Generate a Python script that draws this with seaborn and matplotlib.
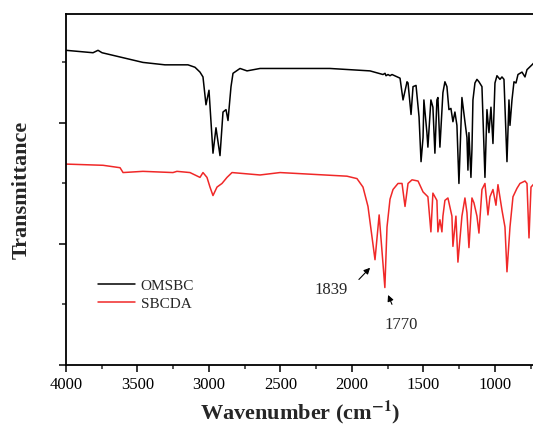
import numpy as np
import pandas as pd
import matplotlib
matplotlib.use("Agg")
import matplotlib.pyplot as plt
import seaborn as sns

# FTIR spectra (wavenumber in cm-1, transmittance in a.u.)
omsbc_wn = [4000, 3811, 3776, 3748, 3462, 3308, 3147, 3098, 3063, 3042, 3021, 3000,
            2972, 2951, 2923, 2902, 2881, 2867, 2846, 2832, 2783, 2734, 2643, 2364,
            2154, 1874, 1783, 1769, 1762, 1748, 1734, 1720, 1664, 1643, 1615, 1608,
            1587, 1573, 1552, 1531, 1517, 1503, 1497, 1476, 1469, 1448, 1434, 1420,
            1406, 1399, 1385, 1364, 1350, 1336, 1322, 1308, 1294, 1280, 1266, 1252,
            1231, 1210, 1196, 1189, 1182, 1168, 1161, 1154, 1140, 1126, 1112, 1091,
            1070, 1056, 1042, 1028, 1014, 1000, 986, 965, 951, 937, 916, 902, 895,
            881, 867, 853, 839, 811, 790, 776, 741, 725]
omsbc_t = [2.60, 2.58, 2.60, 2.58, 2.50, 2.48, 2.48, 2.46, 2.42, 2.38, 2.15, 2.27,
           1.75, 1.96, 1.73, 2.09, 2.11, 2.02, 2.30, 2.41, 2.45, 2.43, 2.45, 2.45,
           2.45, 2.43, 2.40, 2.41, 2.39, 2.40, 2.39, 2.40, 2.37, 2.19, 2.34, 2.33,
           2.07, 2.30, 2.31, 2.05, 1.68, 1.88, 2.19, 1.92, 1.80, 2.19, 2.13, 1.75,
           2.19, 2.21, 1.80, 2.25, 2.34, 2.30, 2.11, 2.12, 2.01, 2.09, 1.98, 1.50,
           2.21, 2.01, 1.88, 1.61, 1.92, 1.55, 1.78, 2.19, 2.33, 2.36, 2.34, 2.30,
           1.55, 2.11, 1.92, 2.13, 1.83, 2.33, 2.39, 2.36, 2.38, 2.36, 1.68, 2.19, 1.98,
           2.19, 2.34, 2.33, 2.40, 2.42, 2.38, 2.44, 2.48, 2.50]

sbcda_wn = [4000, 3741, 3622, 3601, 3462, 3252, 3224, 3133, 3063, 3042, 3014, 2993,
            2972, 2944, 2909, 2874, 2839, 2643, 2503, 2035, 1965, 1923, 1888, 1839,
            1810, 1770, 1755, 1734, 1713, 1678, 1650, 1629, 1608, 1580, 1538, 1503,
            1469, 1448, 1434, 1406, 1399, 1385, 1371, 1364, 1350, 1329, 1301, 1294,
            1273, 1259, 1231, 1210, 1196, 1182, 1161, 1147, 1126, 1112, 1091, 1070,
            1049, 1035, 1014, 993, 979, 951, 930, 916, 895, 874, 846, 825, 790, 776,
            762, 748, 725]
sbcda_t = [1.66, 1.65, 1.63, 1.59, 1.60, 1.59, 1.60, 1.59, 1.55, 1.59, 1.55, 1.47,
           1.40, 1.47, 1.50, 1.55, 1.59, 1.57, 1.59, 1.56, 1.54, 1.47, 1.31, 0.87,
           1.24, 0.64, 1.14, 1.37, 1.45, 1.50, 1.50, 1.31, 1.50, 1.53, 1.52, 1.43,
           1.39, 1.10, 1.42, 1.36, 1.10, 1.20, 1.10, 1.23, 1.36, 1.38, 1.23, 0.98,
           1.23, 0.85, 1.23, 1.38, 1.26, 0.97, 1.38, 1.34, 1.23, 1.09, 1.45, 1.50,
           1.24, 1.39, 1.45, 1.32, 1.49, 1.28, 1.14, 0.77, 1.14, 1.39, 1.46, 1.50, 1.52,
           1.50, 1.05, 1.47, 1.50]

samples = ["OMSBC", "SBCDA"]
colors = ["black", "#f02828"]

df = pd.concat([
    pd.DataFrame({"wn": omsbc_wn, "T": omsbc_t, "sample": "OMSBC"}),
    pd.DataFrame({"wn": sbcda_wn, "T": sbcda_t, "sample": "SBCDA"}),
])

sns.set_style("ticks")
plt.rcParams["font.family"] = ["Liberation Serif", "DejaVu Serif"]
plt.rcParams["mathtext.fontset"] = "stix"

fig = plt.figure(figsize=(5.33, 4.30), dpi=100)
ax = fig.add_axes([66 / 533, 65 / 430, 469 / 533, 351 / 430])

sns.lineplot(data=df, x="wn", y="T", hue="sample", palette=dict(zip(samples, colors)),
             sort=False, estimator=None, lw=1.1, ax=ax)

ax.set_xlim(4000, 720)
ax.set_ylim(0, 2.9)
ax.set_xticks([4000, 3500, 3000, 2500, 2000, 1500, 1000])
ax.set_xticks(np.arange(3750, 720, -500), minor=True)
ax.set_yticks([0, 1, 2])
ax.set_yticks([0.5, 1.5, 2.5], minor=True)
ax.tick_params(axis="both", which="major", length=5, width=1.1, direction="out",
               labelsize=12, colors="black")
ax.tick_params(axis="both", which="minor", length=3, width=1.1, direction="out")
ax.tick_params(axis="y", labelleft=False)
for s in ax.spines.values():
    s.set_linewidth(1.3)
    s.set_color("black")

ax.set_xlabel(r"Wavenumber (cm$^{\mathbf{-1}}$)", fontsize=16, fontweight="bold", labelpad=4)
ax.set_ylabel("Transmittance", fontsize=16, fontweight="bold", labelpad=18)

ax.legend(frameon=False, loc="center left", bbox_to_anchor=(0.068, 0.2),
          fontsize=11, handlelength=2.4, handletextpad=0.4, labelspacing=0.3,
          borderpad=0, borderaxespad=0)

arrow = dict(arrowstyle="-|>", color="black", lw=0.8, mutation_scale=9)
ax.annotate("", xy=(1860, 0.82), xytext=(1965, 0.69), arrowprops=arrow)
ax.text(2147, 0.62, "1839", fontsize=12, ha="center", va="center")
ax.annotate("", xy=(1755, 0.60), xytext=(1713, 0.48), arrowprops=arrow)
ax.text(1657, 0.33, "1770", fontsize=12, ha="center", va="center")

fig.savefig("out.png", dpi=100)
